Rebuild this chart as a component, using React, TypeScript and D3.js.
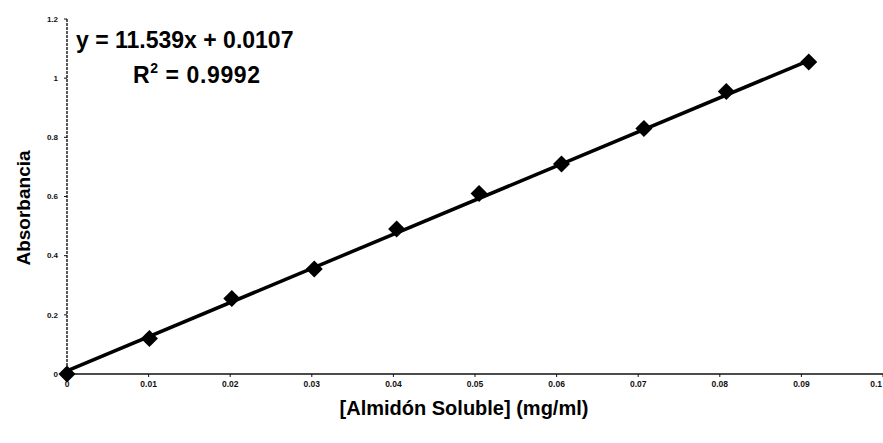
import React from "react";
import * as d3 from "d3";

const concentrations = [0, 0.0101, 0.0202, 0.0303, 0.0404, 0.0505, 0.0606, 0.0707, 0.0808, 0.0909];
const absorbances = [0, 0.12, 0.255, 0.355, 0.49, 0.61, 0.71, 0.83, 0.955, 1.055];
const xTicks = [0, 0.01, 0.02, 0.03, 0.04, 0.05, 0.06, 0.07, 0.08, 0.09, 0.1];
const xTickLabels = ["0", "0.01", "0.02", "0.03", "0.04", "0.05", "0.06", "0.07", "0.08", "0.09", "0.1"];
const yTicks = [0, 0.2, 0.4, 0.6, 0.8, 1, 1.2];
const yTickLabels = ["0", "0.2", "0.4", "0.6", "0.8", "1", "1.2"];
const slope = 11.539;
const intercept = 0.0107;
const equationText = "y = 11.539x + 0.0107";
const r2Value = "0.9992";
const xTitle = "[Almidón Soluble] (mg/ml)";
const yTitle = "Absorbancia";

const W = 883;
const H = 443;
const left = 67;
const right = 883;
const top = 19;
const bottom = 374;
const font = "'Liberation Sans', Arial, sans-serif";

export default function App() {
  const x = d3.scaleLinear().domain([0, 0.1]).range([left, right]);
  const y = d3.scaleLinear().domain([0, 1.2]).range([bottom, top]);
  const xMax = d3.max(concentrations) as number;
  const trend = d3.line<number>().x((d) => x(d)).y((d) => y(slope * d + intercept));
  const diamond = d3.symbol().type(d3.symbolDiamond2).size(185)();

  return (
    <svg
      width={W}
      height={H}
      style={{ position: "absolute", left: 0, top: 0, display: "block", background: "#fff" }}
      fontFamily={font}
    >
      {/* y axis */}
      <line x1={left} x2={left} y1={y(1.2)} y2={y(0)} stroke="#222" strokeWidth={1.5} strokeDasharray="3,1" />
      {yTicks.map((t, i) => (
        <g key={"yt" + i}>
          <line x1={left - 3} x2={left} y1={y(t)} y2={y(t)} stroke="#111" strokeWidth={1} />
          <text x={left - 9} y={y(t)} dy="0.35em" textAnchor="end" fontSize={8} fontWeight="bold" fill="#111">
            {yTickLabels[i]}
          </text>
        </g>
      ))}
      {/* x axis */}
      <line x1={left} x2={right} y1={bottom} y2={bottom} stroke="#111" strokeWidth={1.5} />
      {xTicks.map((t, i) => {
        const last = i === xTicks.length - 1;
        return (
          <g key={"xt" + i}>
            <line x1={x(t)} x2={x(t)} y1={bottom} y2={bottom + 3} stroke="#111" strokeWidth={1} />
            <text
              x={last ? x(t) - 1 : x(t)}
              y={bottom + 13}
              textAnchor={last ? "end" : "middle"}
              fontSize={8.5}
              fontWeight="bold"
              fill="#111"
            >
              {xTickLabels[i]}
            </text>
          </g>
        );
      })}
      {/* trendline */}
      <path d={trend([0, xMax]) || ""} fill="none" stroke="#000" strokeWidth={3.5} />
      {/* markers */}
      {concentrations.map((c, i) => (
        <path key={"m" + i} d={diamond || ""} transform={`translate(${x(c)},${y(absorbances[i])})`} fill="#000" />
      ))}
      {/* equation */}
      <text x={76} y={48} fontSize={23} fontWeight="bold" fill="#000">
        {equationText}
      </text>
      <text x={133} y={83} fontSize={23} fontWeight="bold" fill="#000" letterSpacing={0.6}>
        R<tspan fontSize={14} dy={-10}>2</tspan>
        <tspan dy={10}>{" = " + r2Value}</tspan>
      </text>
      {/* axis titles */}
      <text x={464} y={415} textAnchor="middle" fontSize={20} fontWeight="bold" fill="#000">
        {xTitle}
      </text>
      <text
        transform={`translate(30, 208) rotate(-90)`}
        textAnchor="middle"
        fontSize={19}
        fontWeight="bold"
        fill="#000"
      >
        {yTitle}
      </text>
    </svg>
  );
}
